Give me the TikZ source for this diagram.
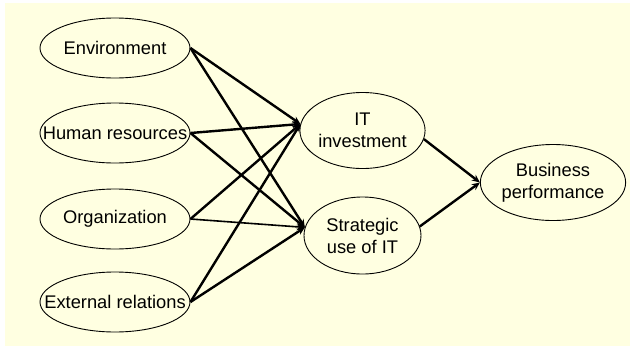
\documentclass[tikz,border=0pt]{standalone}
\usepackage{fontspec}
\setmainfont{Liberation Sans}
\usetikzlibrary{shapes.geometric,arrows.meta}
\definecolor{bgyellow}{RGB}{255,255,225}
\tikzset{
  oval/.style={ellipse,draw=black,line width=0.9pt,inner sep=0pt,
    font=\fontsize{18.3}{22}\selectfont,align=center},
  link/.style={line width=2.4pt,-{Stealth[length=8pt,width=7pt]}},
  thinlink/.style={line width=1.6pt,-{Stealth[length=8pt,width=7pt]}}
}
\newcommand{\ovtext}[1]{\makebox[0pt]{#1}}
\begin{document}
\begin{tikzpicture}[x=1pt,y=-1pt]
\fill[white] (0,0) rectangle (630,346);
\fill[bgyellow] (5,3) rectangle (630,346);
\useasboundingbox (0,0) rectangle (630,346);
\node[oval,minimum width=150pt,minimum height=60pt] (env) at (115,48) {\ovtext{Environment}};
\node[oval,minimum width=150pt,minimum height=60pt] (hr) at (115,133) {\ovtext{Human resources}};
\node[oval,minimum width=150pt,minimum height=60pt] (org) at (115,219) {\ovtext{Organization}};
\node[oval,minimum width=150pt,minimum height=60pt] (ext) at (115,302) {\ovtext{External relations}};
\node[oval,minimum width=117pt,minimum height=76pt] (it) at (362.5,130.5) {IT\\investment};
\node[oval,minimum width=117pt,minimum height=77pt] (sit) at (362.5,235.5) {Strategic\\use of IT};
\node[oval,minimum width=133pt,minimum height=76pt] (bp) at (553,182.5) {Business\\performance};
\draw[link] (env.east) -- (it.174);
\draw[link] (env.east) -- (sit.172);
\draw[link] (hr.east) -- (it.174);
\draw[link] (hr.east) -- (sit.172);
\draw[link] (org.east) -- (it.174);
\draw[thinlink] (org.east) -- (sit.172);
\draw[link] (ext.east) -- (it.174);
\draw[link] (ext.east) -- (sit.172);
\draw[link] (it.-8) -- (bp.west);
\draw[link] (sit.9) -- (bp.west);
\end{tikzpicture}
\end{document}
